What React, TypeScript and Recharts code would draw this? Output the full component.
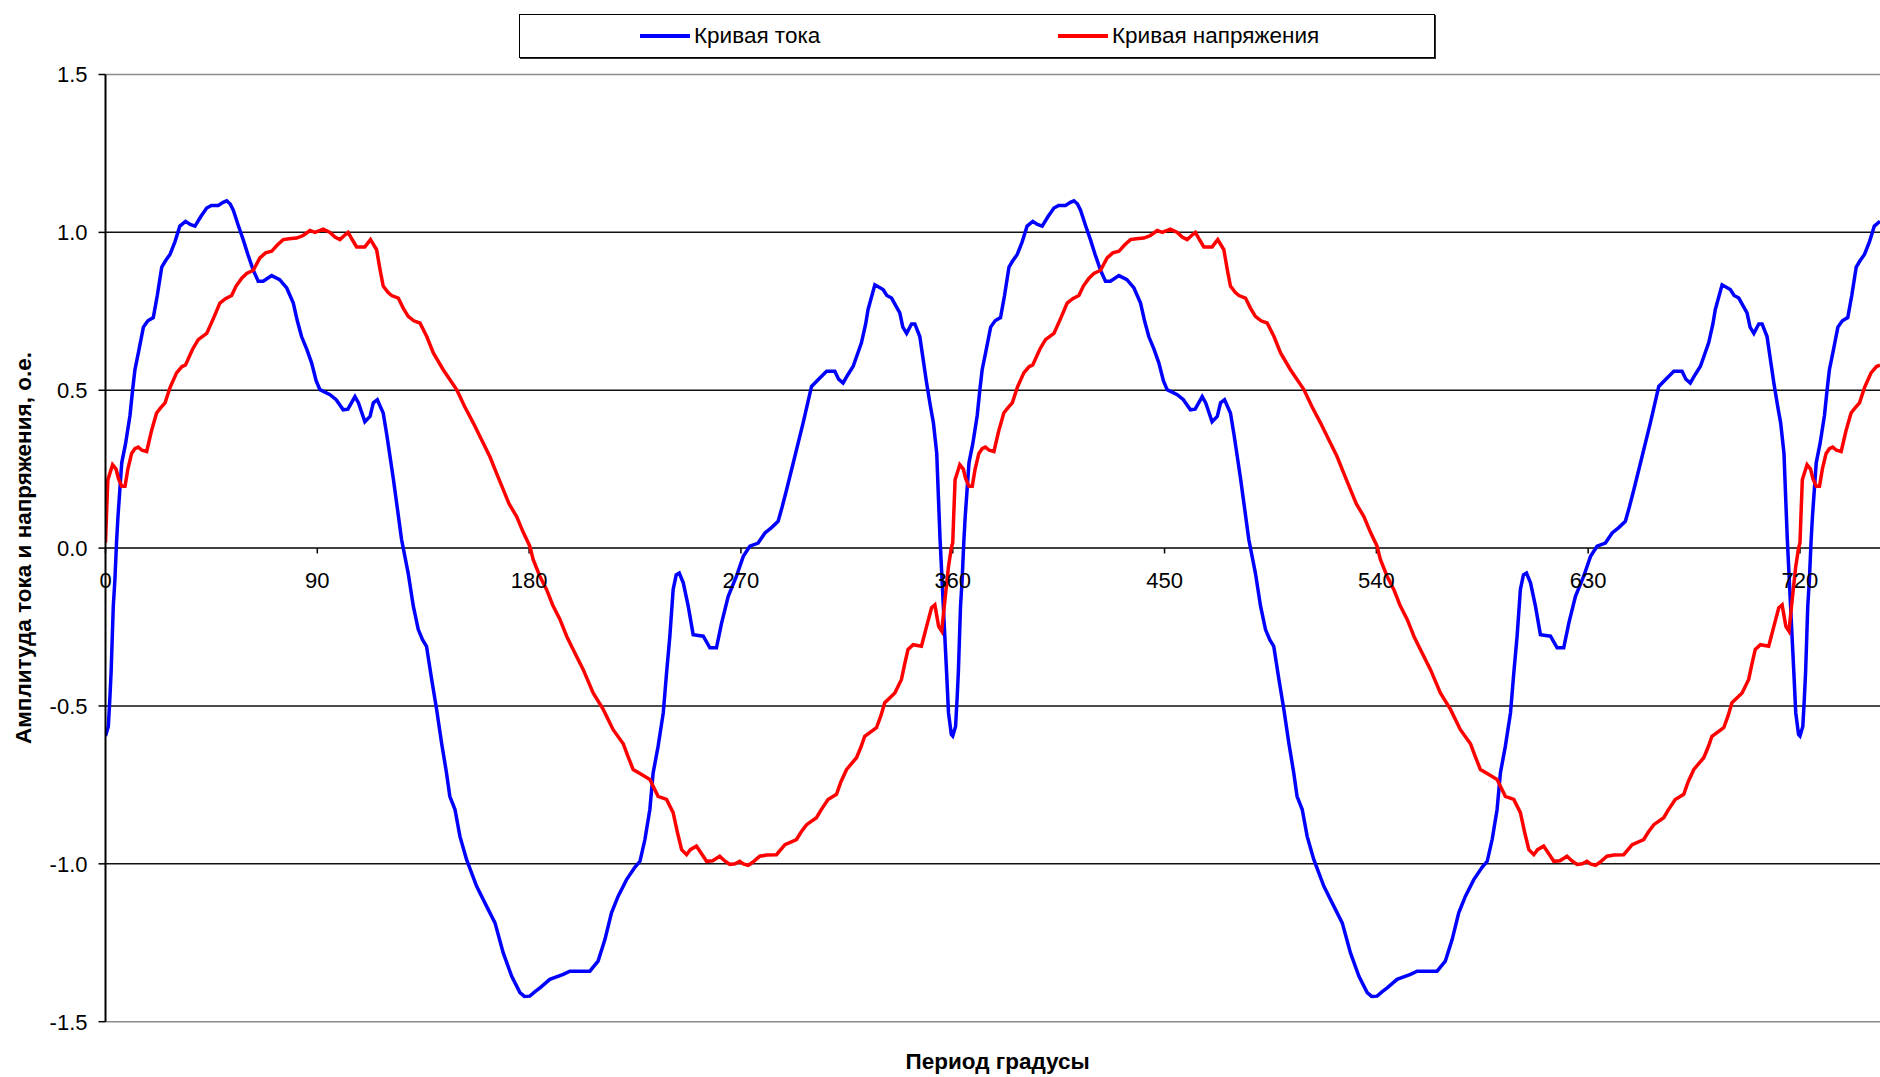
import { LineChart, Line, XAxis, YAxis, ReferenceLine } from "recharts";

// chart geometry
const CHART_W = 1880;
const CHART_H = 1077;
const X_MAX = 754;

// series names / colors
const CURRENT_NAME = "Кривая тока";
const VOLTAGE_NAME = "Кривая напряжения";
const CURRENT_COLOR = "#0000ff";
const VOLTAGE_COLOR = "#ff0000";

// axis ticks
const X_TICKS = [0, 90, 180, 270, 360, 450, 540, 630, 720];
const Y_TICKS = [-1.5, -1, -0.5, 0, 0.5, 1, 1.5];
const GRID_LINES = [-1, -0.5, 0.5, 1];
const BORDER_LINES = [-1.5, 1.5];

// the waveform repeats every 360 degrees; one period
const PERIOD_SHIFTS = [0, 360, 720];

const CURRENT_DEG = [
  0, 1.2, 1.9, 2.4, 3.3, 4, 4.7, 5.3, 6.9, 8.5, 10.4, 11.5, 12.5, 14, 16.1, 18,
  20.3, 22, 23.9, 25.5, 27.4, 29.5, 31.6, 34, 36, 38, 40.5, 43, 45, 47.9, 50,
  51.5, 53, 54.3, 56.5, 58.5, 60.5, 62.8, 64.9, 67, 70.6, 74, 77, 79.8, 81.5,
  83.3, 85.5, 87.6, 89.5, 91.1, 95.4, 98, 101, 103, 106, 107.5, 110.2, 112.4,
  113.8, 115.5, 118, 119.5, 120.9, 122.3, 123.7, 125.8, 128.6, 130.8, 132.9,
  134.7, 136.4, 138.6, 140.7, 142.8, 144.9, 146.3, 148.5, 150.6, 153.4, 157.7,
  161.9, 165.5, 169, 172.6, 176.1, 178, 180.3, 182.5, 184.6, 188.8, 194.5,
  197.3, 205.8, 209.3, 212.2, 215, 217.8, 221.4, 225, 227.1, 229.2, 231.3,
  232.7, 234.8, 237, 238.4, 239.8, 241.2, 242.5, 243.8, 245.5, 247.6, 249.7,
  254, 256.8, 259.6, 261.8, 264.6, 268.1, 271, 273.8, 277.3, 280.2, 283, 285.8,
  287.5, 289.4, 292.9, 296.4, 300, 303, 306.4, 309.9, 311.5, 313.4, 315.5,
  317.7, 321.2, 323, 324, 326.9, 330.4, 332, 334, 337.5, 338.8, 340.4, 342.5,
  343.9, 346, 348.9, 350.5, 351.8, 353.2, 353.9, 354.6, 356, 357.4, 358.2, 359.4,
];
const CURRENT_VAL = [
  -0.595, -0.565, -0.47, -0.39, -0.185, -0.1, 0.02, 0.1, 0.27, 0.33, 0.42, 0.5,
  0.565, 0.62, 0.7, 0.72, 0.73, 0.8, 0.89, 0.91, 0.93, 0.97, 1.02, 1.035,
  1.025, 1.02, 1.05, 1.077, 1.085, 1.085, 1.095, 1.1, 1.09, 1.07, 1.02, 0.977,
  0.93, 0.88, 0.845, 0.845, 0.863, 0.85, 0.824, 0.776, 0.72, 0.67, 0.63, 0.586,
  0.53, 0.502, 0.486, 0.47, 0.438, 0.44, 0.48, 0.46, 0.4, 0.417, 0.46, 0.47,
  0.428, 0.36, 0.29, 0.22, 0.143, 0.027, -0.079, -0.184, -0.258, -0.29,
  -0.311, -0.416, -0.511, -0.617, -0.712, -0.786, -0.828, -0.913, -0.986,
  -1.071, -1.134, -1.187, -1.282, -1.356, -1.408, -1.42, -1.419, -1.405,
  -1.393, -1.366, -1.35, -1.34, -1.34, -1.308, -1.24, -1.155, -1.103, -1.05,
  -1.01, -0.992, -0.923, -0.828, -0.712, -0.628, -0.522, -0.395, -0.279,
  -0.131, -0.085, -0.079, -0.11, -0.184, -0.274, -0.279, -0.316, -0.316,
  -0.237, -0.153, -0.089, -0.026, 0.006, 0.016, 0.048, 0.065, 0.085, 0.13,
  0.185, 0.29, 0.396, 0.512, 0.535, 0.56, 0.56, 0.535, 0.523, 0.55, 0.576,
  0.65, 0.71, 0.755, 0.834, 0.819, 0.8, 0.792, 0.745, 0.7, 0.68, 0.71, 0.71,
  0.67, 0.523, 0.45, 0.396, 0.3, 0.164, 0.03, -0.184, -0.395, -0.522, -0.59,
];

const VOLTAGE_DEG = [
  0, 0.4, 1, 2, 3, 4.5, 5.5, 6.9, 8.3, 9.5, 11.1, 12.5, 13.9, 15.5, 17.5, 19.5,
  21.7, 23.5, 25.3, 27.5, 30.2, 32.5, 34, 37, 39.4, 43, 46, 48.6, 51, 53.6,
  55.5, 57.9, 60, 62.8, 65.6, 68, 70.6, 73, 75.5, 78, 81.2, 84, 86.9, 89, 92.5,
  95.4, 97.5, 99.6, 101.5, 103.1, 105, 106.7, 110.2, 112.6, 115.2, 116.7, 118,
  120, 121.6, 124.4, 126.5, 128.6, 131, 133.6, 136.5, 139.3, 143.5, 149.2,
  152.5, 156.3, 160, 163.3, 166, 169, 171.5, 174.7, 177.5, 180.3, 181.7, 184.6,
  187.4, 190, 193.1, 196, 198.7, 203, 207.2, 211.5, 215.7, 220, 222, 224.2,
  227.8, 231.3, 234.8, 238.4, 241.2, 243, 244.8, 246.9, 248.5, 251.1, 253,
  255.4, 258, 261, 263, 265.3, 267.5, 269.5, 271, 273.1, 275, 278, 281, 285.1,
  288.7, 293.6, 295.5, 297.9, 302.1, 304, 307, 310.6, 312.5, 314.9, 319.1, 321,
  322.6, 327.6, 329.5, 331.1, 335.4, 338.2, 339.5, 341, 343.2, 346.7, 348.9,
  351, 352.4, 354, 355.3, 356.7, 357.6, 358.2, 359.4,
];
const VOLTAGE_VAL = [
  0.017, 0.1, 0.217, 0.24, 0.264, 0.25, 0.22, 0.196, 0.196, 0.25, 0.3, 0.315,
  0.32, 0.31, 0.306, 0.37, 0.428, 0.445, 0.46, 0.51, 0.555, 0.575, 0.58, 0.63,
  0.66, 0.68, 0.73, 0.776, 0.79, 0.8, 0.83, 0.855, 0.87, 0.88, 0.919, 0.935,
  0.94, 0.96, 0.977, 0.98, 0.982, 0.99, 1.006, 1.0, 1.01, 1.0, 0.985, 0.977,
  0.99, 1.0, 0.975, 0.954, 0.954, 0.977, 0.945, 0.88, 0.83, 0.81, 0.8, 0.792,
  0.76, 0.734, 0.72, 0.713, 0.67, 0.618, 0.565, 0.502, 0.45, 0.396, 0.34, 0.29,
  0.24, 0.185, 0.14, 0.1, 0.05, 0.006, -0.036, -0.09, -0.131, -0.18, -0.226,
  -0.28, -0.321, -0.385, -0.459, -0.511, -0.575, -0.62, -0.66, -0.701, -0.717,
  -0.733, -0.786, -0.796, -0.838, -0.9, -0.955, -0.971, -0.955, -0.944, -0.965,
  -0.992, -0.99, -0.976, -0.99, -1.002, -1.0, -0.992, -1.0, -1.005, -0.995,
  -0.976, -0.972, -0.971, -0.939, -0.923, -0.9, -0.876, -0.854, -0.83, -0.796,
  -0.78, -0.74, -0.701, -0.664, -0.63, -0.596, -0.569, -0.53, -0.49, -0.459,
  -0.416, -0.37, -0.321, -0.306, -0.311, -0.248, -0.189, -0.18, -0.248, -0.263,
  -0.163, -0.1, -0.058, 0.0,
];

function buildSeries(deg: number[], val: number[]) {
  const rows: { deg: number; v: number }[] = [];
  PERIOD_SHIFTS.forEach((shift) => {
    deg.forEach((d, i) => {
      if (d + shift <= X_MAX) rows.push({ deg: d + shift, v: val[i] });
    });
  });
  return rows;
}

const currentData = buildSeries(CURRENT_DEG, CURRENT_VAL);
const voltageData = buildSeries(VOLTAGE_DEG, VOLTAGE_VAL);

const FONT = '"Liberation Sans", Arial, sans-serif';

function LegendItem({ left, color, label }: { left: number; color: string; label: string }) {
  return (
    <div
      style={{
        position: "absolute",
        left,
        top: 0,
        height: "100%",
        display: "flex",
        alignItems: "center",
        whiteSpace: "nowrap",
      }}
    >
      <span style={{ display: "inline-block", width: 50, height: 4, background: color, marginRight: 4 }} />
      <span style={{ fontSize: 22.5, color: "#000" }}>{label}</span>
    </div>
  );
}

export default function App() {
  return (
    <div
      style={{
        position: "fixed",
        left: 0,
        top: 0,
        width: CHART_W,
        height: CHART_H,
        background: "#fff",
        fontFamily: FONT,
        overflow: "hidden",
      }}
    >
      <LineChart
        width={CHART_W}
        height={CHART_H}
        margin={{ top: 74.5, right: 0, bottom: 55.3, left: 0 }}
      >
        <XAxis type="number" dataKey="deg" domain={[0, X_MAX]} hide allowDataOverflow />
        <YAxis
          type="number"
          domain={[-1.5, 1.5]}
          ticks={Y_TICKS}
          interval={0}
          width={105.5}
          tickFormatter={(v) => Number(v).toFixed(1)}
          axisLine={{ stroke: "#000", strokeWidth: 2 }}
          tickLine={{ stroke: "#000", strokeWidth: 1.5 }}
          tickSize={7}
          tickMargin={11}
          tick={{ fill: "#000", fontSize: 22 }}
          label={{
            value: "Амплитуда тока и напряжения, о.е.",
            angle: -90,
            position: "insideLeft",
            offset: 23,
            fill: "#000",
            fontSize: 22.5,
            fontWeight: "bold",
            style: { textAnchor: "middle", fontWeight: "bold" },
          }}
        />
        {BORDER_LINES.map((v) => (
          <ReferenceLine key={`b${v}`} y={v} stroke="#8c8c8c" strokeWidth={1.5} />
        ))}
        {GRID_LINES.map((v) => (
          <ReferenceLine key={`g${v}`} y={v} stroke="#111" strokeWidth={1.5} />
        ))}
        <ReferenceLine y={0} stroke="#000" strokeWidth={1.5} />
        {X_TICKS.map((t) => (
          <ReferenceLine
            key={`t${t}`}
            segment={[
              { x: t, y: 0 },
              { x: t, y: -0.017 },
            ]}
            stroke="#000"
            strokeWidth={1.5}
            label={{ value: String(t), position: "bottom", offset: 19, fill: "#000", fontSize: 22 }}
          />
        ))}
        <Line
          data={currentData}
          dataKey="v"
          name={CURRENT_NAME}
          type="linear"
          stroke={CURRENT_COLOR}
          strokeWidth={3.5}
          dot={false}
          isAnimationActive={false}
        />
        <Line
          data={voltageData}
          dataKey="v"
          name={VOLTAGE_NAME}
          type="linear"
          stroke={VOLTAGE_COLOR}
          strokeWidth={3.5}
          dot={false}
          isAnimationActive={false}
        />
      </LineChart>

      <div
        style={{
          position: "absolute",
          left: 519,
          top: 14,
          width: 916,
          height: 44,
          boxSizing: "border-box",
          border: "1px solid #000",
          boxShadow: "1px 1px 0 #333",
          background: "#fff",
        }}
      >
        <LegendItem left={120} color={CURRENT_COLOR} label={CURRENT_NAME} />
        <LegendItem left={538} color={VOLTAGE_COLOR} label={VOLTAGE_NAME} />
      </div>

      <div
        style={{
          position: "absolute",
          left: 847.6,
          width: 300,
          top: 1049,
          lineHeight: "26px",
          textAlign: "center",
          fontWeight: "bold",
          fontSize: 22.5,
          color: "#000",
        }}
      >
        Период градусы
      </div>
    </div>
  );
}
